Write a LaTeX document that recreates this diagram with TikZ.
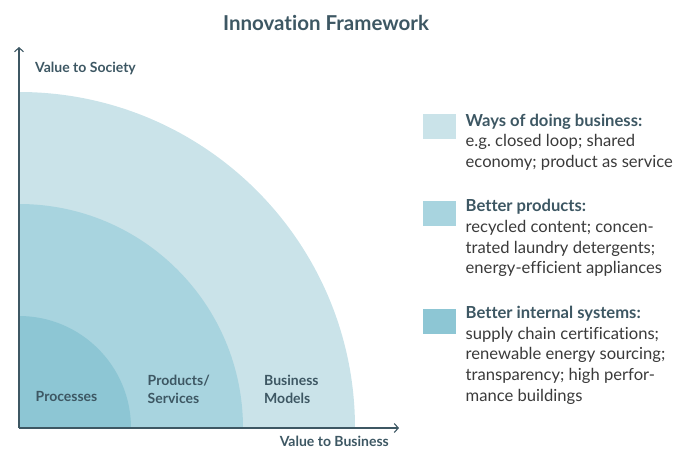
\documentclass[tikz,border=0pt]{standalone}
\usepackage{fontspec}
\setmainfont{Lato}[Ligatures=NoCommon]
\usetikzlibrary{arrows.meta}
\definecolor{ringA}{HTML}{CAE3E9}
\definecolor{ringB}{HTML}{A8D4DF}
\definecolor{ringC}{HTML}{8DC6D4}
\definecolor{ink}{HTML}{3D5763}
\definecolor{bodyink}{HTML}{3A3A3A}
\frenchspacing
\begin{document}
\begin{tikzpicture}[x=1pt,y=-1pt,
  axis/.style={draw=ink,line width=1.3pt,-{Straight Barb[length=4pt,width=9pt,line width=1.1pt]}},
  axislabel/.style={inner sep=0pt,text=ink,font=\fontsize{14}{17}\selectfont\bfseries},
  ringlabel/.style={inner sep=0pt,align=left,anchor=base west,text=ink,font=\fontsize{14}{18}\selectfont\bfseries},
  swatch/.style={minimum width=33pt,minimum height=25pt,inner sep=0pt,anchor=north west},
  legend/.style={inner sep=0pt,anchor=base west,align=left,text=bodyink,font=\fontsize{16.6}{20.7}\selectfont}
]
\useasboundingbox (0,0) rectangle (692,450);

% title
\node[text=ink,font=\fontsize{20.5}{24}\selectfont\bfseries] (title) at (326,23) {Innovation Framework};

% quarter rings, largest first
\coordinate (O) at (19,428);
\fill[ringA] (O) -- ++(336,0) arc[start angle=0,end angle=-90,radius=336] -- cycle;
\fill[ringB] (O) -- ++(224,0) arc[start angle=0,end angle=-90,radius=224] -- cycle;
\fill[ringC] (O) -- ++(112,0) arc[start angle=0,end angle=-90,radius=112] -- cycle;

% axes
\coordinate (ytip) at (19,47);
\coordinate (xtip) at (399,428);
\draw[axis] (O) -- (ytip);
\draw[axis] (O) -- (xtip);
\node[axislabel,anchor=base west] (ylab) at (35,72) {Value to Society};
\node[axislabel,anchor=base east] (xlab) at (389,446.5) {Value to Business};

% ring labels (anchored at the baseline of the last line)
\node[ringlabel] (proc) at (35.5,401.5) {Processes};
\node[ringlabel] (prod) at (147.5,403) {Products/\\Services};
\node[ringlabel] (biz) at (264,403) {Business\\Models};

% legend (anchored at the baseline of the last line)
\node[swatch,fill=ringA] (swA) at (423,114) {};
\node[legend] (legA) at (465.5,167.4) {{\bfseries\color{ink}Ways of doing business:}\\e.g. closed loop; shared\\economy; product as service};
\node[swatch,fill=ringB] (swB) at (423,200.7) {};
\node[legend] (legB) at (465.5,273.8) {{\bfseries\color{ink}Better products:}\\recycled content; concen-\\trated laundry detergents;\\energy-efficient appliances};
\node[swatch,fill=ringC] (swC) at (423,309) {};
\node[legend] (legC) at (465.5,401.1) {{\bfseries\color{ink}Better internal systems:}\\supply chain certifications;\\renewable energy sourcing;\\transparency; high perfor-\\mance buildings};
\end{tikzpicture}
\end{document}
